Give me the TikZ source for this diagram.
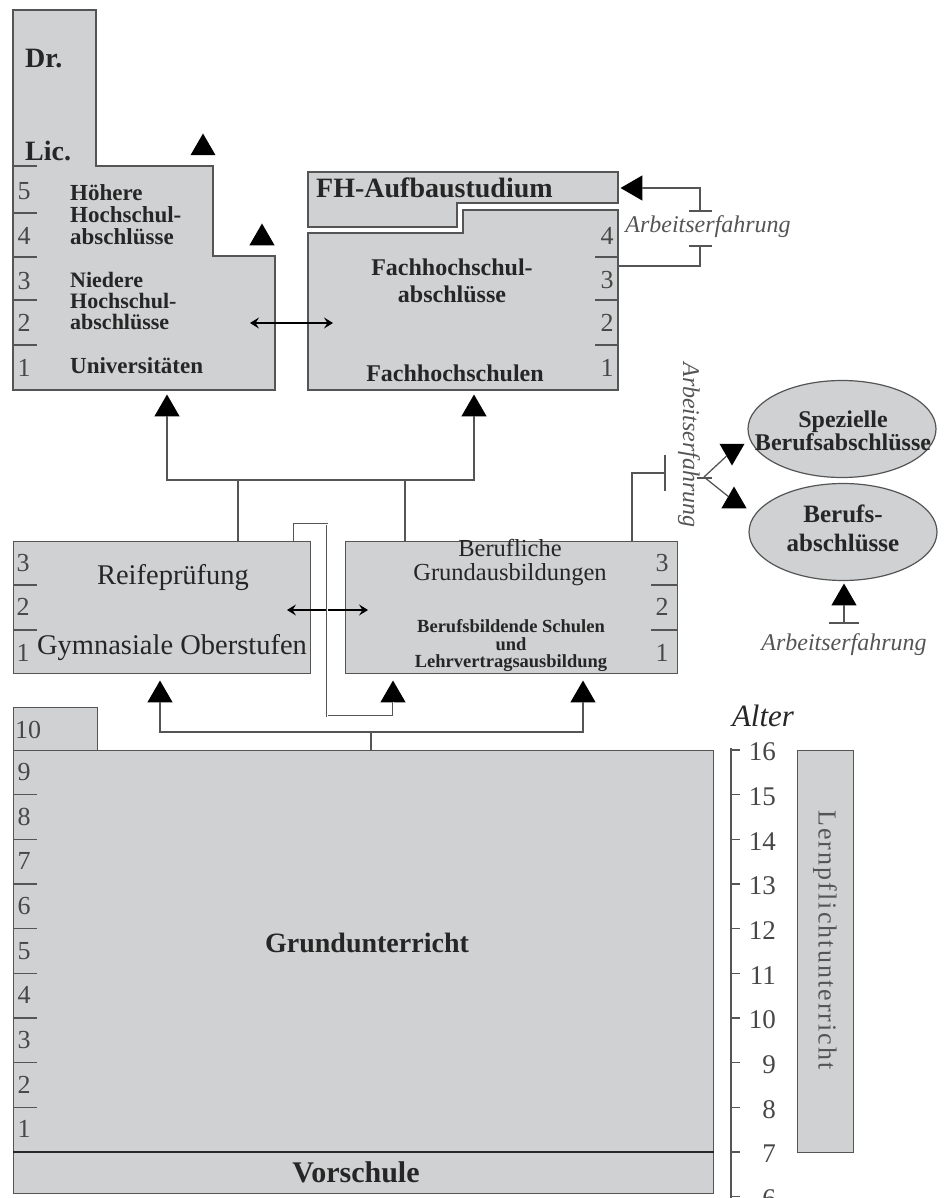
\documentclass[tikz,border=0pt]{standalone}
\usepackage{fontspec}
\setmainfont{Liberation Serif}
\usepackage{tikz}
\usetikzlibrary{shapes.geometric, arrows.meta}
\definecolor{boxgray}{RGB}{208, 209, 211}
\definecolor{edge}{RGB}{85, 85, 85}
\definecolor{ink}{RGB}{38, 38, 38}

\begin{document}
\begin{tikzpicture}[
   x=1pt, y=-1pt,
   area/.style={fill=boxgray, draw=edge, line width=1.4},
   box/.style={rectangle, fill=boxgray, draw=edge, line width=1.4,
               inner sep=0, anchor=north west},
   oval/.style={ellipse, fill=boxgray, draw=edge, line width=1.2,
                inner sep=0, minimum width=188, minimum height=97},
   tick/.style={draw=edge, line width=1.3},
   conn/.style={draw=edge, line width=1.3},
   gap/.style={draw=edge, line width=0.7, double=white, double distance=1.0},
   twoway/.style={draw=black, line width=1.2,
                  {Stealth[length=9pt, width=11pt, inset=3.5pt]}-{Stealth[length=9pt, width=11pt, inset=3.5pt]}},
   tri/.style={regular polygon, regular polygon sides=3, fill=black,
               minimum size=29, inner sep=0, outer sep=0},
   num/.style={text=ink!85, font=\fontsize{26}{26}\selectfont, inner sep=0},
   age/.style={text=ink!85, font=\fontsize{27}{27}\selectfont, inner sep=0},
   big/.style={text=ink, font=\fontsize{28.5}{28}\selectfont, inner sep=0},
   bigb/.style={text=ink, font=\bfseries\fontsize{28}{28}\selectfont, inner sep=0},
   small/.style={text=ink, font=\bfseries\fontsize{23}{22}\selectfont, inner sep=0},
   work/.style={text=edge, font=\itshape\fontsize{24}{24}\selectfont, inner sep=0}
  ]

  \useasboundingbox (0,0) rectangle (944,1198);

  % Universitaeten
  \filldraw[area] (13,10) -- (96,10) -- (96,166) -- (213,166) -- (213,256)
     -- (275,256) -- (275,390) -- (13,390) -- cycle;
  \foreach \y in {166,213,257,300,345} {
    \draw[tick] (13,\y) -- (37,\y);
  }
  \foreach \n/\y in {5/191, 4/236, 3/281, 2/323, 1/368} {
    \node[num] (u\n) at (24,\y) {\n};
  }
  \node[bigb, anchor=west] (dr) at (25,59) {Dr.};
  \node[bigb, anchor=west] (lic) at (25,151) {Lic.};
  \node[small, anchor=west, align=left] (hoeh) at (70,215) {Höhere\\Hochschul-\\abschlüsse};
  \node[small, anchor=west, align=left, font=\bfseries\fontsize{22}{21}\selectfont] (nied) at (70,301) {Niedere\\Hochschul-\\abschlüsse};
  \node[small, anchor=west] (univ) at (70,366) {Universitäten};
  \node[tri] (tU1) at (203,148) {};
  \node[tri] (tU2) at (262,238) {};

  % Fachhochschulen
  \filldraw[area] (308,172) -- (618,172) -- (618,203) -- (457,203) -- (457,227)
     -- (308,227) -- cycle;
  \filldraw[area] (308,233) -- (463,233) -- (463,210) -- (618,210) -- (618,390)
     -- (308,390) -- cycle;
  \foreach \y in {257,300,345} {
    \draw[tick] (595,\y) -- (618,\y);
  }
  \foreach \n/\y in {4/236, 3/280, 2/323, 1/368} {
    \node[num] (f\n) at (607,\y) {\n};
  }
  \node[bigb, anchor=west] (fha) at (316,188) {FH-Aufbaustudium};
  \node[small, align=center, font=\bfseries\fontsize{24}{27}\selectfont] (fhab) at (452,281) {Fachhochschul-\\abschlüsse};
  \node[small, font=\bfseries\fontsize{24}{24}\selectfont] (fhs) at (455,373) {Fachhochschulen};

  \coordinate (uA) at (250,323);
  \coordinate (fA) at (333,323);
  \draw[twoway] (uA) -- (fA);

  % Sekundarstufe II
  \node[box, minimum width=297, minimum height=132] (reif) at (13,541) {};
  \node[box, minimum width=332, minimum height=132] (beruf) at (345,541) {};
  \foreach \y in {585,630} {
    \draw[tick] (13,\y) -- (37,\y);
    \draw[tick] (651,\y) -- (677,\y);
  }
  \foreach \n/\y in {3/563, 2/607, 1/653} {
    \node[num] (r\n) at (23,\y) {\n};
    \node[num] (b\n) at (662,\y) {\n};
  }
  \node[big] (reifl) at (173,578) {Reifeprüfung};
  \node[big] (gym) at (172,648) {Gymnasiale Oberstufen};
  \node[text=ink, align=center, inner sep=0, font=\fontsize{24.5}{24}\selectfont] (grl) at (510,563) {Berufliche\\Grundausbildungen};
  \node[text=ink, align=center, inner sep=0, font=\bfseries\fontsize{18.5}{17.5}\selectfont] (bbs) at (511,646) {Berufsbildende Schulen\\und\\Lehrvertragsausbildung};

  \coordinate (rA) at (287,610);
  \coordinate (bA) at (368,610);
  \draw[twoway] (rA) -- (bA);

  % Pfeile nach oben
  \node[tri] (tA1) at (167,409) {};
  \node[tri] (tA2) at (474,409) {};
  \coordinate (jA1) at (167,480);
  \coordinate (jA2) at (474,480);
  \coordinate (rUp) at (238,480);
  \coordinate (bUp) at (405,480);
  \draw[conn] (tA1.south) -- (jA1) -- (jA2) -- (tA2.south);
  \draw[conn] (reif.north -| rUp) -- (rUp);
  \draw[conn] (beruf.north -| bUp) -- (bUp);

  % Grundschule
  \node[box, minimum width=84, minimum height=43] (zehn) at (13,707) {};
  \node[num, anchor=west] (n10) at (15,730) {10};
  \node[box, minimum width=700, minimum height=402] (grund) at (13,750) {};
  \node[box, minimum width=700, minimum height=41] (vor) at (13,1152) {};
  \draw[draw=ink, line width=2.6] (vor.north west) -- (vor.north east);
  \foreach \k in {1,...,8} {
    \draw[tick] (13,{750+44.67*\k}) -- (37,{750+44.67*\k});
  }
  \foreach \n [count=\k from 0] in {9,8,...,1} {
    \node[num] (g\n) at (24,{772+44.67*\k}) {\n};
  }
  \node[bigb] (grundl) at (367,943) {Grundunterricht};
  \node[bigb, font=\bfseries\fontsize{30}{30}\selectfont] (vorl) at (356,1172) {Vorschule};

  \node[tri] (tB1) at (160,695) {};
  \node[tri] (tB2) at (393,695) {};
  \node[tri] (tB3) at (583,695) {};
  \coordinate (jB1) at (160,732);
  \coordinate (jB3) at (583,732);
  \coordinate (gUp) at (371,732);
  \draw[conn] (tB1.south) -- (jB1) -- (jB3) -- (tB3.south);
  \draw[conn] (grund.north -| gUp) -- (gUp);
  \coordinate (kA) at (294,524);
  \coordinate (kB) at (327,716);
  \draw[gap] (reif.north -| kA) -- (kA) -| (kB) -| (tB2.south);

  % Alter
  \draw[tick] (731,748) -- (731,1198);
  \foreach \a [count=\k from 0] in {16,15,...,6} {
    \draw[tick] (731,{750+44.67*\k}) -- (740,{750+44.67*\k});
    \node[age, anchor=east] (a\a) at (776,{752+44.67*\k}) {\a};
  }
  \node[text=ink, inner sep=0, font=\itshape\fontsize{31}{31}\selectfont] (alter) at (763,716) {Alter};
  \node[box, minimum width=56, minimum height=402] (lern) at (797,750) {};
  \node[text=edge, inner sep=0, rotate=-90,
        font=\fontsize{26}{26}\selectfont\addfontfeature{LetterSpace=8}] (lernl) at (825,940) {Lernpflichtunterricht};

  % Berufsabschluesse
  \node[oval] (spez) at (842,429) {};
  \node[small, align=center, font=\bfseries\fontsize{24}{22}\selectfont] (spezl) at (843,431) {Spezielle\\Berufsabschlüsse};
  \node[oval] (bab) at (843,532) {};
  \node[small, align=center, font=\bfseries\fontsize{25}{29}\selectfont] (babl) at (843,528) {Berufs-\\abschlüsse};

  % Arbeitserfahrung
  \node[tri, shape border rotate=90] (tF) at (635,188) {};
  \coordinate (wT1) at (700,211);
  \coordinate (wT2) at (700,246);
  \coordinate (fR) at (618,266);
  \draw[conn] (tF.east) -| (wT1);
  \draw[conn] (wT1) ++(-11,0) -- ++(23,0);
  \node[work] (arb1) at (708,227) {Arbeitserfahrung};
  \draw[conn] (wT2) ++(-11,0) -- ++(23,0);
  \draw[conn] (wT2) |- (fR);

  \coordinate (wM) at (632,473);
  \coordinate (wT3) at (665,473);
  \draw[conn] (beruf.north -| wM) -- (wM) -- (wT3);
  \draw[conn] (wT3) ++(0,-18) -- ++(0,36);
  \node[work, rotate=-90] (arb2) at (689,445) {Arbeitserfahrung};
  \coordinate (wS) at (704,477);
  \draw[conn] (wS) ++(-7,1) -- ++(15,0);
  \node[tri, shape border rotate=180] (tS) at (732,451) {};
  \node[tri] (tBa) at (734,501) {};
  \draw[conn] (wS) -- (tS);
  \draw[conn] (wS) -- (tBa);

  \node[tri] (tBb) at (844,598) {};
  \coordinate (wT4) at (844,623);
  \draw[conn] (tBb.south) -- (wT4);
  \draw[conn] (wT4) ++(-15,0) -- ++(30,0);
  \node[work] (arb3) at (844,645) {Arbeitserfahrung};

\end{tikzpicture}
\end{document}
